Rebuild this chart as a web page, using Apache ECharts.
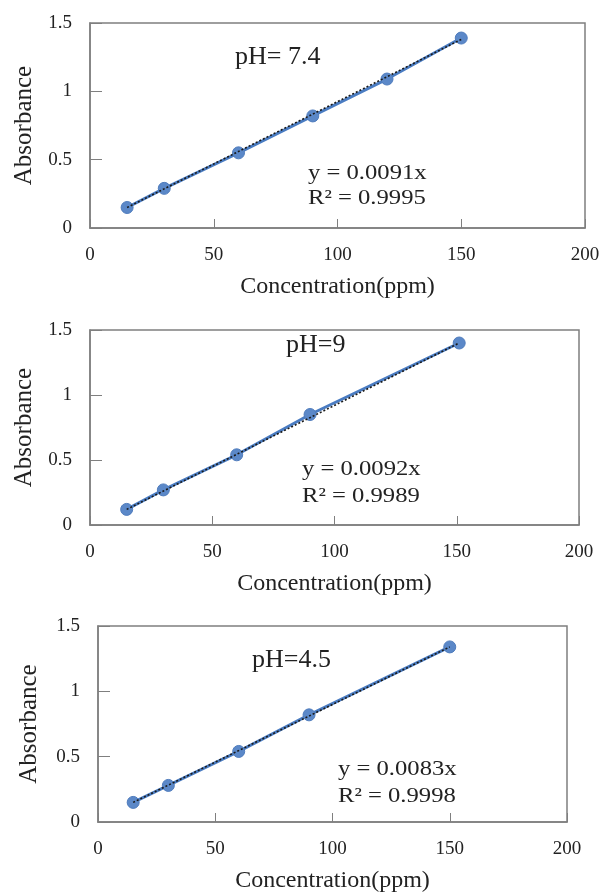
<!DOCTYPE html>
<html>
<head>
<meta charset="utf-8">
<script src="https://cdn.jsdelivr.net/npm/echarts@6/dist/echarts.min.js"></script>
<style>
    html, body { margin: 0; padding: 0; background: #fff; }
    #main { width: 603px; height: 895px; }
</style>
</head>
<body>
<div id="main"></div>
<script>
// standards
var conc74 = [15, 30, 60, 90, 120, 150];
var abs74 = [0.15, 0.29, 0.55, 0.82, 1.09, 1.39];
var conc9 = [15, 30, 60, 90, 151];
var abs9 = [0.12, 0.27, 0.54, 0.85, 1.40];
var conc45 = [15, 30, 60, 90, 150];
var abs45 = [0.15, 0.28, 0.54, 0.82, 1.34];

// dotted trendline ends
var trend74 = [[15, 0.15], [150, 1.38]];
var trend9 = [[15, 0.12], [151, 1.40]];
var trend45 = [[15, 0.15], [150, 1.34]];

var labels = ['pH= 7.4', 'pH=9', 'pH=4.5'];
var eqs = ['y = 0.0091x', 'y = 0.0092x', 'y = 0.0083x'];
var r2s = ['R\u00b2 = 0.9995', 'R\u00b2 = 0.9989', 'R\u00b2 = 0.9998'];

var xMin = 0, xMax = 200, xStep = 50;
var yMin = 0, yMax = 1.5, yStep = 0.5;

var font = '"Liberation Serif", "Times New Roman", serif';
var ink = '#222';
var frame = '#7f7f7f';

var chart = echarts.init(document.getElementById('main'));

// layout of the three boxes
var grids = [
    {left: 90, top: 23, width: 495, height: 205},
    {left: 90, top: 330, width: 489, height: 195},
    {left: 98, top: 626, width: 469, height: 196}
];
var textPos = [
    {ph: [235, 57], eq: [308, 173], r2: [308, 198]},
    {ph: [286, 345], eq: [302, 469], r2: [302, 496]},
    {ph: [252, 660], eq: [338, 769], r2: [338, 796]}
];

var sets = [
    {x: conc74, y: abs74, trend: trend74},
    {x: conc9, y: abs9, trend: trend9},
    {x: conc45, y: abs45, trend: trend45}
];

var xAxes = [], yAxes = [], series = [], graphic = [];

grids.forEach(function (g, i) {
    g.show = true;
    g.borderColor = frame;
    g.borderWidth = 1.5;
    g.backgroundColor = '#fff';

    xAxes.push({
        type: 'value', gridIndex: i, min: xMin, max: xMax, interval: xStep,
        name: 'Concentration(ppm)', nameLocation: 'middle', nameGap: 47,
        nameTextStyle: {fontFamily: font, fontSize: 24, color: ink},
        axisLine: {show: true, lineStyle: {color: frame, width: 1.5}},
        axisTick: {show: true, inside: true, length: 9, lineStyle: {color: frame}},
        axisLabel: {fontFamily: font, fontSize: 19, color: ink, margin: 18},
        splitLine: {show: false}
    });
    yAxes.push({
        type: 'value', gridIndex: i, min: yMin, max: yMax, interval: yStep,
        name: 'Absorbance', nameLocation: 'middle', nameGap: i === 2 ? 56 : 53,
        nameTextStyle: {fontFamily: font, fontSize: 25, color: ink},
        axisLine: {show: true, lineStyle: {color: frame, width: 1.5}},
        axisTick: {show: true, inside: true, length: 12, lineStyle: {color: frame}},
        axisLabel: {fontFamily: font, fontSize: 19, color: ink, margin: 18},
        splitLine: {show: false}
    });

    var d = sets[i];
    series.push({
        type: 'line', xAxisIndex: i, yAxisIndex: i,
        data: d.x.map(function (v, k) { return [v, d.y[k]]; }),
        symbol: 'circle', symbolSize: 12,
        itemStyle: {color: '#5b88c8', borderColor: '#4f7cbd', borderWidth: 1},
        lineStyle: {color: '#4a7cc2', width: 3},
        z: 2
    });
    series.push({
        type: 'line', xAxisIndex: i, yAxisIndex: i,
        data: d.trend,
        symbol: 'none',
        lineStyle: {color: '#1a1a1a', width: 1.6, type: [2, 2]},
        z: 3
    });

    var p = textPos[i];
    graphic.push({
        type: 'text', x: p.ph[0], y: p.ph[1], z: 10,
        style: {text: labels[i], font: '26px ' + font, fill: ink, verticalAlign: 'middle'}
    });
    graphic.push({
        type: 'text', x: p.eq[0], y: p.eq[1], z: 10, scaleX: 1.12,
        style: {text: eqs[i], font: '22px ' + font, fill: ink, verticalAlign: 'middle'}
    });
    graphic.push({
        type: 'text', x: p.r2[0], y: p.r2[1], z: 10, scaleX: 1.12,
        style: {text: r2s[i], font: '22px ' + font, fill: ink, verticalAlign: 'middle'}
    });
});

chart.setOption({
    backgroundColor: '#fff',
    animation: false,
    grid: grids,
    xAxis: xAxes,
    yAxis: yAxes,
    series: series,
    graphic: graphic
});
</script>
</body>
</html>
